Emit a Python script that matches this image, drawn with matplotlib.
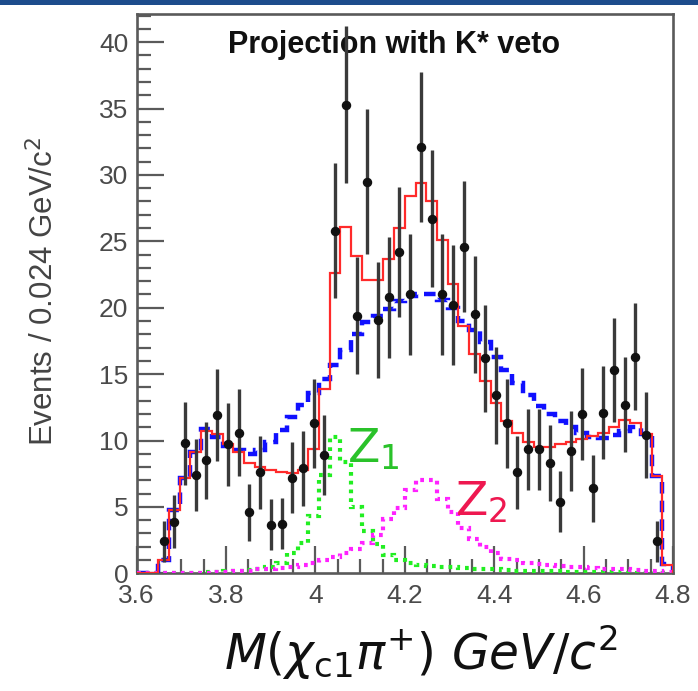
import numpy as np
import matplotlib
matplotlib.use("Agg")
import matplotlib.pyplot as plt
from matplotlib.patches import Rectangle

# Binning of the M(chi_c1 pi+) projection: 50 bins of 0.024 GeV/c^2
mass_lo, mass_hi, n_bins = 3.6, 4.8, 50

# Observed events per bin (empty bins left as nan)
data_counts = [np.nan, np.nan, 2.4, 3.9, 9.8, 7.4, 8.5, 11.9, 9.7, 10.6,
               4.6, 7.6, 3.65, 3.75, 7.2, 7.9, 11.3, 8.9, 25.8, 35.3,
               19.4, 29.5, 19.1, 20.8, 24.2, 21.0, 32.1, 26.7, 21.0, 20.2,
               24.6, 19.5, 16.2, 13.4, 11.3, 7.6, 9.35, 9.35, 8.3, 5.4,
               9.2, 12.0, 6.4, 12.1, 15.3, 12.7, 16.3, 10.4, 2.4, np.nan]

# Full fit (with Z1 and Z2)
fit_total = [0.0, 0.0, 1.0, 4.8, 7.15, 9.1, 10.7, 10.5, 9.75, 9.1,
             8.3, 8.0, 7.75, 7.6, 7.55, 7.8, 9.35, 13.9, 22.6, 26.1,
             23.9, 22.1, 22.1, 23.7, 26.0, 28.4, 29.4, 28.0, 25.1, 21.8,
             18.65, 16.5, 14.5, 12.8, 11.5, 10.55, 9.85, 9.5, 9.5, 9.7,
             9.85, 10.1, 10.35, 10.6, 11.05, 11.55, 11.3, 10.5, 7.3, 0.65]

# Fit without the Z resonances
fit_no_z = [0.0, 0.0, 1.0, 4.8, 7.2, 9.1, 10.9, 10.3, 9.6, 9.3,
            9.0, 9.3, 9.9, 10.8, 11.8, 12.7, 13.6, 14.6, 15.7, 16.8,
            18.0, 18.9, 19.4, 19.9, 20.5, 20.9, 21.0, 21.0, 20.6, 20.0,
            19.0, 18.3, 17.4, 16.3, 15.3, 14.3, 13.4, 12.6, 12.0, 11.5,
            11.0, 10.6, 10.25, 10.2, 10.4, 10.7, 11.0, 10.5, 7.3, 0.7]

# Z1 contribution
z1_component = [0.0, 0.0, 0.0, 0.0, 0.05, 0.05, 0.1, 0.1, 0.15, 0.2,
                0.25, 0.3, 0.5, 0.8, 1.5, 2.3, 4.3, 7.4, 10.3, 8.4,
                5.0, 3.2, 2.2, 1.4, 1.0, 0.8, 0.65, 0.55, 0.5, 0.45,
                0.4, 0.35, 0.3, 0.3, 0.25, 0.2, 0.2, 0.15, 0.15, 0.15,
                0.1, 0.1, 0.1, 0.1, 0.1, 0.05, 0.05, 0.05, 0.05, 0.05]

# Z2 contribution
z2_component = [0.0, 0.0, 0.0, 0.0, 0.0, 0.0, 0.05, 0.1, 0.1, 0.15,
                0.2, 0.3, 0.35, 0.4, 0.5, 0.6, 0.8, 1.0, 1.2, 1.5,
                1.8, 2.3, 2.9, 4.1, 4.9, 6.3, 7.0, 7.0, 5.6, 4.6,
                3.4, 2.6, 2.0, 1.5, 1.1, 1.0, 0.8, 0.7, 0.6, 0.55,
                0.5, 0.45, 0.4, 0.35, 0.3, 0.3, 0.25, 0.2, 0.15, 0.1]

x_ticks = [3.6, 3.8, 4.0, 4.2, 4.4, 4.6, 4.8]
x_tick_labels = ["3.6", "3.8", "4", "4.2", "4.4", "4.6", "4.8"]
y_ticks = [0, 5, 10, 15, 20, 25, 30, 35, 40]

edges = np.linspace(mass_lo, mass_hi, n_bins + 1)
centers = 0.5 * (edges[:-1] + edges[1:])
counts = np.array(data_counts)
errors = np.sqrt(counts)

W, H = 698, 691
fig = plt.figure(figsize=(W / 100, H / 100), dpi=100)
fig.patch.set_facecolor("white")

# slide header strip
fig.add_artist(Rectangle((0, 1 - 5 / H), 1, 5 / H, transform=fig.transFigure,
                         facecolor="#1d4c8c", edgecolor="none"))

left, right, top, bottom = 136.7, 673.0, 14.0, 573.3
ax = fig.add_axes([left / W, 1 - bottom / H, (right - left) / W, (bottom - top) / H])
ax.set_xlim(mass_lo, mass_hi)
ax.set_ylim(0, (bottom - top) / 13.28)

frame_col = "#5a5a5a"
for s in ax.spines.values():
    s.set_color(frame_col)
    s.set_linewidth(1.9)

ax.stairs(fit_no_z, edges, color="#1010ff", lw=3.2, linestyle=(0, (2.6, 1.6)), zorder=3)
ax.stairs(z1_component, edges, color="#22ee22", lw=3.0, linestyle=(0, (0.9, 1.2)), zorder=3)
ax.stairs(z2_component, edges, color="#ff22ff", lw=3.0, linestyle=(0, (0.9, 1.2)), zorder=3)
ax.stairs(fit_total, edges, color="#ff2a2a", lw=1.6, zorder=4)

ax.errorbar(centers, counts, yerr=errors, fmt="o", color="#111111", ecolor="#3a3a3a",
            elinewidth=2.4, markersize=5.8, capsize=0, zorder=5)

ax.set_xticks(x_ticks)
ax.set_xticklabels(x_tick_labels)
ax.set_xticks(np.arange(3.6, 4.8001, 0.05), minor=True)
ax.set_yticks(y_ticks)
ax.set_yticks(np.arange(0, 43, 1), minor=True)
ax.tick_params(which="both", direction="in", color=frame_col, width=1.6,
               top=False, right=False)
ax.tick_params(which="major", length=19.5, labelsize=19, labelcolor="#4a4a4a")
ax.tick_params(axis="x", which="major", pad=8)
ax.tick_params(axis="y", which="major", pad=6)
ax.tick_params(which="minor", length=10)
for lab in ax.get_xticklabels() + ax.get_yticklabels():
    lab.set_family("Liberation Sans")

ax.set_ylabel("Events / 0.024 GeV/c$^2$", family="Liberation Sans", fontsize=22.5,
              color="#444444")
ax.yaxis.set_label_coords(-0.142, 0.505)

ax.text(0.48, 0.945, "Projection with K* veto", transform=ax.transAxes,
        ha="center", va="center", fontsize=22, fontweight="bold",
        family="Liberation Sans", color="#111111")

ax.text(4.13, 9.3, r"Z$_1$", color="#2ac22a", fontsize=34, family="DejaVu Sans",
        ha="center", va="center", zorder=6)
ax.text(4.37, 5.3, r"Z$_2$", color="#ee1850", fontsize=34, family="DejaVu Sans",
        ha="center", va="center", zorder=6)

fig.text(0.603, 0.055, r"$\mathit{M}$($\chi_{\mathrm{c1}}\pi^{+}$) $\mathit{GeV/c}^{2}$",
         ha="center", va="center", fontsize=35, color="#111111")

fig.savefig("out.png", dpi=100)
